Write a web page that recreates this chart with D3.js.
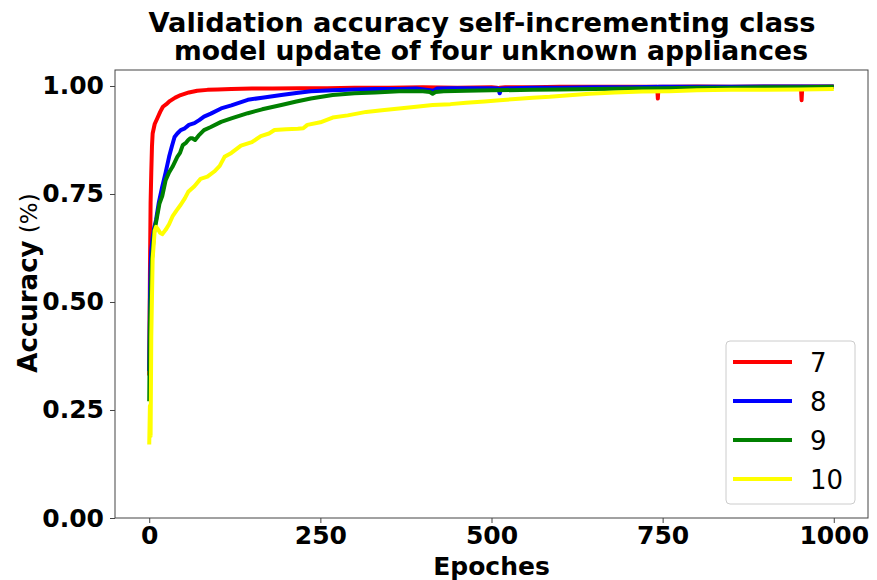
<!DOCTYPE html>
<html><head><meta charset="utf-8">
<script src="https://cdn.jsdelivr.net/npm/d3@7"></script>
<style>body{margin:0;background:#fff}svg{display:block}text{font-family:"DejaVu Sans",sans-serif}</style>
</head><body><svg id="c" width="877" height="580"></svg>
<script>
const seriesNames = ["7","8","9","10"];
const seriesColors = ["#ff0000","#0000ff","#008000","#ffff00"];
const xTicks = [0,250,500,750,1000];
const yTicks = [0,0.25,0.5,0.75,1.0];
const titleLines = ["Validation accuracy self-incrementing class"," model update of four unknown appliances"];

const epochs7 = [0,1,2,3,4,5,8,12,16,20,25,30,38,46,58,70,85,100,120,150,180,220,260,300,350,400,450,500,508,510,512,520,560,600,650,700,740,742,743,744,746,760,800,850,900,950,952,953,954,956,970,1000];
const acc7 = [0.33,0.56,0.73,0.80,0.86,0.89,0.912,0.926,0.94,0.952,0.958,0.965,0.973,0.979,0.985,0.989,0.991,0.992,0.993,0.994,0.994,0.995,0.995,0.996,0.996,0.997,0.996,0.997,0.996,0.99,0.996,0.997,0.997,0.998,0.998,0.998,0.998,0.998,0.971,0.998,0.998,0.998,0.999,0.998,0.999,0.999,0.999,0.967,0.999,0.999,0.999,0.999];

const epochs8 = [0,1,2,3,5,7,10,14,19,24,29,33,37,41,46,52,58,66,73,80,90,105,120,144,165,193,215,236,268,300,330,365,390,410,415,420,440,470,500,510,512,514,530,560,600,650,700,750,800,850,900,950,1000];
const acc8 = [0.34,0.5,0.58,0.62,0.65,0.67,0.69,0.73,0.767,0.8,0.836,0.86,0.882,0.89,0.898,0.902,0.91,0.914,0.921,0.929,0.936,0.948,0.955,0.968,0.973,0.979,0.984,0.988,0.99,0.992,0.993,0.993,0.994,0.99,0.989,0.994,0.995,0.995,0.995,0.994,0.983,0.994,0.995,0.996,0.996,0.997,0.997,0.998,0.998,0.998,0.999,0.999,0.999];

const epochs9 = [0,1,2,4,7,10,15,19,24,29,34,41,45,49,54,57,60,63,67,72,80,90,105,120,144,165,193,215,236,268,300,330,365,400,410,414,418,430,463,500,560,600,650,700,750,800,850,900,950,1000];
const acc9 = [0.27,0.45,0.51,0.6,0.66,0.685,0.728,0.745,0.782,0.8,0.813,0.836,0.845,0.863,0.869,0.875,0.879,0.879,0.875,0.885,0.898,0.905,0.917,0.925,0.937,0.946,0.956,0.964,0.971,0.979,0.983,0.985,0.988,0.988,0.986,0.982,0.986,0.988,0.989,0.99,0.991,0.992,0.993,0.994,0.995,0.996,0.996,0.997,0.997,0.998];

const epochs10 = [0,1,2,3,5,8,10,13,16,19,24,29,34,40,46,52,57,66,75,85,95,103,110,120,134,150,163,175,183,200,217,225,231,250,268,290,317,340,365,390,414,440,463,490,512,535,560,585,609,643,680,720,760,800,850,900,950,1000];
const acc10 = [0.17,0.26,0.19,0.42,0.6,0.665,0.674,0.668,0.66,0.657,0.667,0.68,0.698,0.712,0.725,0.74,0.755,0.768,0.785,0.79,0.802,0.815,0.836,0.845,0.862,0.87,0.884,0.89,0.898,0.9,0.901,0.902,0.91,0.916,0.927,0.932,0.94,0.944,0.948,0.952,0.956,0.958,0.961,0.964,0.967,0.97,0.973,0.975,0.978,0.982,0.985,0.987,0.988,0.99,0.991,0.991,0.992,0.993];

const allEpochs = [epochs7, epochs8, epochs9, epochs10];
const allAcc = [acc7, acc8, acc9, acc10];

const svg = d3.select("#c");
const L = 115, R = 868, T = 70, B = 518;
const x = d3.scaleLinear().domain([-50, 1050]).range([L, R]);
const y = d3.scaleLinear().domain([0, 1.037]).range([B, T]);

// title
svg.append("text").attr("x", 482).attr("y", 32).attr("text-anchor","middle")
  .attr("font-size", 27).attr("font-weight","bold")
  .attr("textLength", 667).attr("lengthAdjust","spacingAndGlyphs").text(titleLines[0]);
svg.append("text").attr("x", 491).attr("y", 60).attr("text-anchor","middle")
  .attr("font-size", 27).attr("font-weight","bold")
  .attr("textLength", 634).attr("lengthAdjust","spacingAndGlyphs").text(titleLines[1].trim());

// lines
const line = d3.line().x(d => x(d[0])).y(d => y(d[1]));
const g = svg.append("g");
seriesNames.forEach((n, i) => {
  const pts = allEpochs[i].map((e, j) => [e, allAcc[i][j]]);
  g.append("path").attr("d", line(pts)).attr("fill","none")
    .attr("stroke", seriesColors[i]).attr("stroke-width", 4)
    .attr("stroke-linejoin","round");
});

// axes
const xAxis = d3.axisBottom(x).tickValues(xTicks).tickFormat(d3.format("d")).tickSize(5).tickPadding(3);
const yAxis = d3.axisLeft(y).tickValues(yTicks).tickFormat(d3.format(".2f")).tickSize(5).tickPadding(6);
const gx = svg.append("g").attr("transform", `translate(0,${B})`).call(xAxis);
const gy = svg.append("g").attr("transform", `translate(${L},0)`).call(yAxis);
[gx, gy].forEach(a => {
  a.select(".domain").remove();
  a.selectAll(".tick line").attr("stroke", "#444").attr("stroke-width", 1);
  a.selectAll(".tick text").attr("font-family","DejaVu Sans").attr("font-size", 25)
    .attr("font-weight","bold").attr("fill","#000");
});

// frame
svg.append("rect").attr("x", L).attr("y", T).attr("width", R - L).attr("height", B - T)
  .attr("fill","none").attr("stroke","#444").attr("stroke-width",1);

// axis labels
svg.append("text").attr("x", (L + R) / 2).attr("y", 575).attr("text-anchor","middle")
  .attr("font-size", 25).attr("font-weight","bold").text("Epoches");
const yl = svg.append("text").attr("transform", "translate(37,283) rotate(-90)")
  .attr("text-anchor","middle").attr("font-size", 26).attr("font-weight","bold");
yl.append("tspan").text("Accuracy");
yl.append("tspan").attr("font-weight","normal").attr("font-size", 23).text(" (%)");

// legend
const lg = svg.append("g");
lg.append("rect").attr("x", 726).attr("y", 341).attr("width", 129).attr("height", 163)
  .attr("rx", 4).attr("fill","#fff").attr("fill-opacity",0.8).attr("stroke","#ccc").attr("stroke-width",1);
seriesNames.forEach((n, i) => {
  const yy = 362 + i * 39;
  lg.append("line").attr("x1", 733).attr("x2", 792).attr("y1", yy).attr("y2", yy)
    .attr("stroke", seriesColors[i]).attr("stroke-width", 4);
  lg.append("text").attr("x", 810).attr("y", yy + 10).attr("font-size", 26).text(n);
});
</script></body></html>
